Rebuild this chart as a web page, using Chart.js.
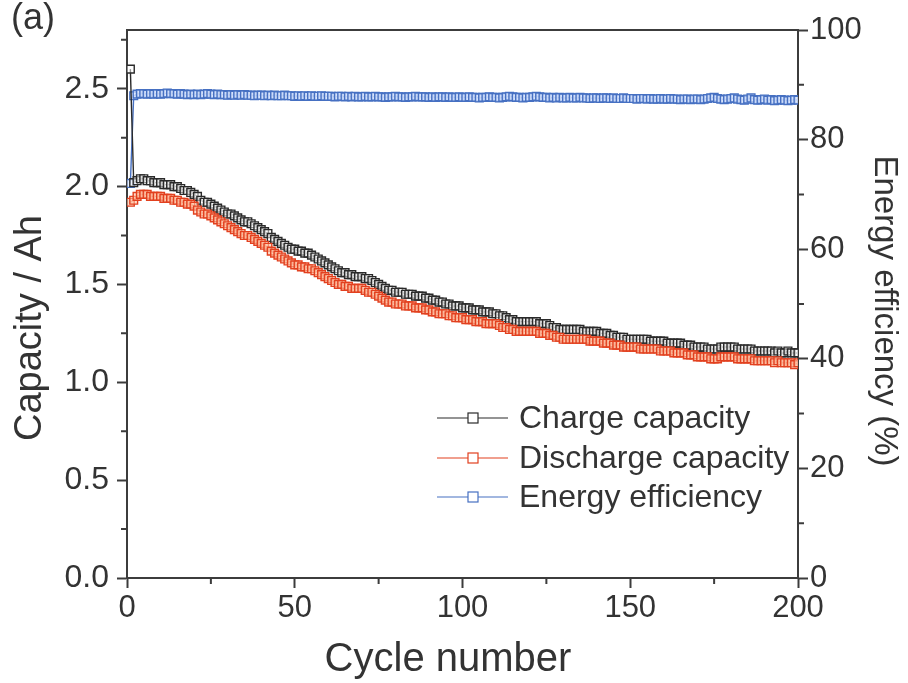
<!DOCTYPE html>
<html>
<head>
<meta charset="utf-8">
<script src="https://cdn.jsdelivr.net/npm/chart.js@4.4.0/dist/chart.umd.min.js"></script>
<style>
  html, body { margin: 0; padding: 0; background: #fff; }
  #wrap { width: 908px; height: 683px; }
</style>
</head>
<body>
<div id="wrap"><canvas id="myChart" width="908" height="683"></canvas></div>
<script>
// cycle numbers 1..200
var cycles = Array.from({ length: 200 }, function(_, i) { return i + 1; });

// Ah
var chargeCapacity = [
  2.60, 2.02, 2.03, 2.04, 2.04, 2.03, 2.03, 2.02, 2.02, 2.02,
  2.01, 2.01, 2.01, 2.00, 2.00, 1.99, 1.98, 1.98, 1.97, 1.96,
  1.95, 1.93, 1.92, 1.92, 1.91, 1.90, 1.89, 1.88, 1.87, 1.86,
  1.86, 1.85, 1.84, 1.83, 1.82, 1.82, 1.81, 1.80, 1.79, 1.78,
  1.77, 1.76, 1.74, 1.73, 1.72, 1.71, 1.70, 1.69, 1.68, 1.68,
  1.67, 1.67, 1.66, 1.66, 1.65, 1.64, 1.63, 1.62, 1.61, 1.60,
  1.59, 1.58, 1.57, 1.56, 1.56, 1.55, 1.55, 1.54, 1.54, 1.54,
  1.53, 1.53, 1.52, 1.51, 1.50, 1.49, 1.48, 1.47, 1.47, 1.46,
  1.46, 1.46, 1.45, 1.45, 1.45, 1.44, 1.44, 1.44, 1.43, 1.43,
  1.42, 1.42, 1.41, 1.41, 1.40, 1.40, 1.39, 1.39, 1.39, 1.38,
  1.38, 1.38, 1.37, 1.37, 1.37, 1.36, 1.36, 1.36, 1.35, 1.35,
  1.34, 1.34, 1.33, 1.32, 1.32, 1.31, 1.31, 1.31, 1.31, 1.31,
  1.31, 1.31, 1.30, 1.30, 1.30, 1.29, 1.28, 1.28, 1.27, 1.27,
  1.27, 1.27, 1.27, 1.27, 1.27, 1.26, 1.26, 1.26, 1.26, 1.26,
  1.25, 1.25, 1.25, 1.24, 1.24, 1.23, 1.23, 1.23, 1.22, 1.22,
  1.22, 1.22, 1.22, 1.22, 1.22, 1.21, 1.21, 1.21, 1.21, 1.21,
  1.20, 1.20, 1.20, 1.20, 1.20, 1.19, 1.19, 1.19, 1.18, 1.18,
  1.18, 1.18, 1.17, 1.17, 1.17, 1.17, 1.18, 1.18, 1.18, 1.18,
  1.18, 1.17, 1.17, 1.17, 1.17, 1.17, 1.16, 1.16, 1.16, 1.16,
  1.16, 1.16, 1.15, 1.16, 1.15, 1.15, 1.16, 1.15, 1.15, 1.15
];

var dischargeCapacity = [
  1.92, 1.93, 1.95, 1.96, 1.96, 1.96, 1.95, 1.95, 1.95, 1.95,
  1.94, 1.94, 1.94, 1.93, 1.93, 1.92, 1.92, 1.91, 1.91, 1.90,
  1.88, 1.87, 1.86, 1.86, 1.85, 1.84, 1.83, 1.82, 1.81, 1.80,
  1.79, 1.78, 1.77, 1.76, 1.75, 1.75, 1.74, 1.73, 1.72, 1.71,
  1.70, 1.69, 1.67, 1.66, 1.65, 1.64, 1.63, 1.62, 1.61, 1.60,
  1.60, 1.59, 1.59, 1.58, 1.58, 1.57, 1.56, 1.55, 1.54, 1.53,
  1.52, 1.51, 1.50, 1.50, 1.49, 1.49, 1.48, 1.48, 1.48, 1.48,
  1.47, 1.46, 1.46, 1.45, 1.44, 1.43, 1.42, 1.41, 1.41, 1.40,
  1.40, 1.40, 1.39, 1.39, 1.39, 1.38, 1.38, 1.38, 1.37, 1.37,
  1.36, 1.36, 1.35, 1.35, 1.35, 1.34, 1.34, 1.33, 1.33, 1.33,
  1.32, 1.32, 1.32, 1.31, 1.31, 1.31, 1.30, 1.30, 1.30, 1.30,
  1.29, 1.28, 1.28, 1.27, 1.27, 1.26, 1.26, 1.26, 1.26, 1.26,
  1.26, 1.26, 1.25, 1.25, 1.25, 1.24, 1.24, 1.23, 1.23, 1.22,
  1.22, 1.22, 1.22, 1.22, 1.22, 1.22, 1.22, 1.21, 1.21, 1.21,
  1.21, 1.20, 1.20, 1.20, 1.19, 1.19, 1.19, 1.18, 1.18, 1.18,
  1.18, 1.18, 1.17, 1.17, 1.17, 1.17, 1.17, 1.17, 1.16, 1.16,
  1.16, 1.16, 1.15, 1.15, 1.15, 1.15, 1.14, 1.14, 1.14, 1.13,
  1.13, 1.13, 1.13, 1.12, 1.12, 1.12, 1.13, 1.13, 1.13, 1.13,
  1.13, 1.12, 1.12, 1.12, 1.12, 1.12, 1.11, 1.11, 1.11, 1.11,
  1.11, 1.11, 1.10, 1.11, 1.10, 1.10, 1.10, 1.10, 1.09, 1.10
];

// %
var energyEfficiency = [
  72.0, 88.0, 88.3, 88.4, 88.4, 88.3, 88.4, 88.3, 88.4, 88.3,
  88.4, 88.5, 88.4, 88.4, 88.3, 88.4, 88.3, 88.2, 88.3, 88.2,
  88.3, 88.2, 88.3, 88.4, 88.3, 88.2, 88.3, 88.2, 88.2, 88.1,
  88.2, 88.1, 88.2, 88.1, 88.2, 88.1, 88.1, 88.0, 88.1, 88.1,
  88.0, 88.1, 88.0, 88.1, 88.0, 88.0, 88.1, 88.0, 88.0, 87.9,
  88.0, 87.9, 88.0, 87.9, 88.0, 87.9, 87.9, 88.0, 87.9, 87.9,
  87.9, 87.8, 87.9, 87.9, 87.8, 87.9, 87.8, 87.9, 87.8, 87.8,
  87.9, 87.8, 87.8, 87.9, 87.8, 87.8, 87.7, 87.8, 87.8, 87.9,
  87.8, 87.8, 87.7, 87.8, 87.8, 87.9, 87.8, 87.8, 87.8, 87.7,
  87.8, 87.7, 87.8, 87.8, 87.7, 87.8, 87.7, 87.7, 87.8, 87.7,
  87.7, 87.8, 87.7, 87.7, 87.6, 87.7, 87.7, 87.8, 87.7, 87.7,
  87.6, 87.7, 87.8, 87.9, 87.8, 87.7, 87.7, 87.6, 87.7, 87.7,
  87.8, 87.9, 87.8, 87.7, 87.7, 87.6, 87.7, 87.6, 87.7, 87.6,
  87.6, 87.7, 87.6, 87.6, 87.7, 87.6, 87.6, 87.5, 87.6, 87.6,
  87.5, 87.6, 87.6, 87.5, 87.6, 87.5, 87.5, 87.6, 87.5, 87.5,
  87.5, 87.4, 87.5, 87.5, 87.4, 87.5, 87.4, 87.4, 87.5, 87.4,
  87.4, 87.5, 87.4, 87.4, 87.3, 87.4, 87.4, 87.3, 87.4, 87.4,
  87.3, 87.4, 87.5, 87.6, 87.7, 87.5, 87.4, 87.3, 87.4, 87.5,
  87.6, 87.4, 87.3, 87.2, 87.4, 87.6, 87.3, 87.2, 87.3, 87.4,
  87.2, 87.3, 87.1, 87.2, 87.3, 87.2, 87.1, 87.2, 87.3, 87.2
];

var seriesLabels = ['Charge capacity', 'Discharge capacity', 'Energy efficiency'];
var cycleMinorTicks = [25, 75, 125, 175];
var capacityMinorTicks = [0.25, 0.75, 1.25, 1.75, 2.25, 2.75];
var efficiencyMinorTicks = [10, 30, 50, 70, 90];

var axisColor = '#3c3c3c';
var textColor = '#333333';
var fontFamily = "'Liberation Sans', Arial, sans-serif";

function toPoints(values) {
  return values.map(function(v, i) { return { x: cycles[i], y: v }; });
}

// малые деления, верхняя рамка, подписи осей и (a)
var extrasPlugin = {
  id: 'extras',
  afterDraw: function(chart) {
    var ctx = chart.ctx;
    var area = chart.chartArea;
    var sx = chart.scales.x, sl = chart.scales.y, sr = chart.scales.y1;
    ctx.save();
    ctx.strokeStyle = axisColor;
    ctx.lineWidth = 2;
    ctx.beginPath();
    ctx.moveTo(area.left - 1, area.top);
    ctx.lineTo(area.right + 1, area.top);
    cycleMinorTicks.forEach(function(v) {
      var px = sx.getPixelForValue(v);
      ctx.moveTo(px, area.bottom);
      ctx.lineTo(px, area.bottom + 6);
    });
    capacityMinorTicks.forEach(function(v) {
      var py = sl.getPixelForValue(v);
      ctx.moveTo(area.left, py);
      ctx.lineTo(area.left - 6, py);
    });
    efficiencyMinorTicks.forEach(function(v) {
      var py = sr.getPixelForValue(v);
      ctx.moveTo(area.right, py);
      ctx.lineTo(area.right + 6, py);
    });
    ctx.stroke();

    ctx.fillStyle = textColor;
    ctx.textBaseline = 'middle';
    ctx.textAlign = 'left';
    ctx.font = '36px ' + fontFamily;
    ctx.fillText('(a)', 11, 19);

    ctx.textAlign = 'center';
    ctx.font = '40px ' + fontFamily;
    ctx.fillText('Cycle number', 448, 660);

    ctx.save();
    ctx.translate(31, 328);
    ctx.rotate(-Math.PI / 2);
    ctx.font = '38px ' + fontFamily;
    ctx.fillText('Capacity / Ah', 0, 0);
    ctx.restore();

    ctx.save();
    ctx.translate(884, 311);
    ctx.rotate(Math.PI / 2);
    ctx.font = '33px ' + fontFamily;
    ctx.fillText('Energy efficiency (%)', 0, 0);
    ctx.restore();

    ctx.restore();
  }
};

// легенда внутри области графика
var legendPlugin = {
  id: 'insideLegend',
  afterDatasetsDraw: function(chart) {
    var ctx = chart.ctx;
    var x0 = 437, x1 = 508, tx = 519;
    var rows = [418, 458, 497];
    ctx.save();
    ctx.font = '32px ' + fontFamily;
    ctx.textBaseline = 'middle';
    chart.data.datasets.forEach(function(ds, i) {
      var y = rows[i];
      ctx.strokeStyle = ds.borderColor;
      ctx.lineWidth = 1.2;
      ctx.beginPath();
      ctx.moveTo(x0, y);
      ctx.lineTo(x1, y);
      ctx.stroke();
      ctx.fillStyle = '#fff';
      ctx.fillRect(x0 + 31, y - 5, 10, 10);
      ctx.strokeRect(x0 + 31, y - 5, 10, 10);
      ctx.fillStyle = textColor;
      ctx.fillText(ds.label, tx, y + 1);
    });
    ctx.restore();
  }
};

var ctx = document.getElementById('myChart').getContext('2d');
var myChart = new Chart(ctx, {
  type: 'line',
  data: {
    datasets: [{
      label: seriesLabels[0],
      data: toPoints(chargeCapacity),
      yAxisID: 'y',
      borderColor: '#2a2a2a',
      backgroundColor: 'rgba(255,255,255,0.5)',
      pointStyle: 'rect',
      pointRadius: 5.5,
      pointBorderWidth: 1.4,
      borderWidth: 1.4,
      order: 1
    }, {
      label: seriesLabels[1],
      data: toPoints(dischargeCapacity),
      yAxisID: 'y',
      borderColor: '#e2401f',
      backgroundColor: 'rgba(255,195,165,0.6)',
      pointStyle: 'rect',
      pointRadius: 5.5,
      pointBorderWidth: 1.4,
      borderWidth: 1.4,
      order: 0
    }, {
      label: seriesLabels[2],
      data: toPoints(energyEfficiency),
      yAxisID: 'y1',
      borderColor: '#4670c2',
      backgroundColor: 'rgba(215,228,255,0.6)',
      pointStyle: 'rect',
      pointRadius: 5.5,
      pointBorderWidth: 1.4,
      borderWidth: 1.4,
      order: 2
    }]
  },
  options: {
    responsive: false,
    animation: false,
    devicePixelRatio: 1,
    layout: { padding: { top: 30, left: 0, right: 0, bottom: 0 } },
    plugins: {
      legend: { display: false },
      tooltip: { enabled: false }
    },
    scales: {
      x: {
        type: 'linear',
        min: 0,
        max: 200,
        afterFit: function(scale) { scale.height = 105; },
        ticks: {
          stepSize: 50,
          color: textColor,
          font: { family: fontFamily, size: 31 },
          padding: 2,
          maxRotation: 0
        },
        grid: { drawOnChartArea: false, tickLength: 10, tickColor: axisColor, tickWidth: 2 },
        border: { color: axisColor, width: 2 }
      },
      y: {
        position: 'left',
        min: 0,
        max: 2.8,
        afterFit: function(scale) { scale.width = 127; },
        ticks: {
          stepSize: 0.5,
          includeBounds: false,
          color: textColor,
          font: { family: fontFamily, size: 32 },
          padding: 8,
          callback: function(v) { return v.toFixed(1); }
        },
        grid: { drawOnChartArea: false, tickLength: 10, tickColor: axisColor, tickWidth: 2 },
        border: { color: axisColor, width: 2 }
      },
      y1: {
        position: 'right',
        min: 0,
        max: 100,
        afterFit: function(scale) { scale.width = 110; },
        ticks: {
          stepSize: 20,
          color: textColor,
          font: { family: fontFamily, size: 31 },
          padding: 2
        },
        grid: { drawOnChartArea: false, tickLength: 10, tickColor: axisColor, tickWidth: 2 },
        border: { color: axisColor, width: 2 }
      }
    }
  },
  plugins: [extrasPlugin, legendPlugin]
});
</script>
</body>
</html>
